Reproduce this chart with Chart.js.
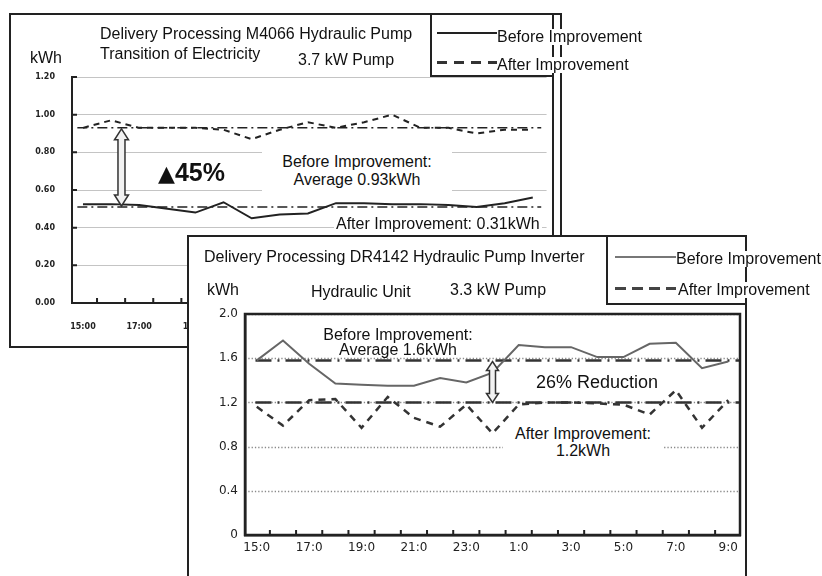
<!DOCTYPE html>
<html>
<head>
<meta charset="utf-8">
<script src="https://cdn.jsdelivr.net/npm/chart.js@4/dist/chart.umd.min.js"></script>
<style>
  body { margin: 0; width: 822px; height: 576px; overflow: hidden; background: #fff; position: relative;
         font-family: "Liberation Sans", Arial, sans-serif; color: #111; }
  .abs { position: absolute; box-sizing: border-box; }
  .t { position: absolute; white-space: nowrap; line-height: 1; font-size: 16px; }
  .bg { background: #fff; }
  .c { text-align: center; }
  canvas { position: absolute; }
</style>
</head>
<body>

<!-- back panel: M4066 -->
<div class="abs" style="left:9px;top:13px;width:553px;height:335px;border:2px solid #222;"></div>
<div class="abs" style="left:552px;top:13px;width:2px;height:335px;background:#222;"></div>
<canvas id="chart1" width="552" height="334" style="left:10px;top:14px;"></canvas>
<div class="abs" style="left:430px;top:13px;width:124px;height:64px;border-left:2px solid #222;border-bottom:2px solid #222;"></div>
<div class="abs" style="left:437px;top:32px;width:60px;height:2px;background:#222;"></div>
<div class="abs" style="left:437px;top:61px;width:60px;height:3px;background:repeating-linear-gradient(90deg,#333 0 10px,transparent 10px 17px);"></div>
<div class="t bg" style="left:497px;top:29px;">Before Improvement</div>
<div class="t bg" style="left:497px;top:57px;">After Improvement</div>
<div class="t" style="left:100px;top:26px;">Delivery Processing M4066 Hydraulic Pump</div>
<div class="t" style="left:100px;top:46px;">Transition of Electricity</div>
<div class="t" style="left:298px;top:52px;">3.7 kW Pump</div>
<div class="t" style="left:30px;top:50px;">kWh</div>
<div class="t" style="left:158px;top:160px;font-weight:bold;font-size:25px;"><span style="font-family:'DejaVu Sans';font-size:22px;">▲</span>45%</div>
<div class="t bg c" style="left:262px;top:150px;width:190px;line-height:18px;padding:3px 0 6px;">Before Improvement:<br>Average 0.93kWh</div>
<div class="t bg" style="left:334px;top:216px;padding:0 2px;">After Improvement: 0.31kWh</div>

<!-- front panel: DR4142 -->
<div class="abs bg" style="left:187px;top:235px;width:560px;height:400px;border:2px solid #222;"></div>
<canvas id="chart2" width="558" height="340" style="left:188px;top:236px;"></canvas>
<div class="abs" style="left:606px;top:235px;width:139px;height:70px;border-left:2px solid #222;border-bottom:2px solid #222;"></div>
<div class="abs" style="left:615px;top:256px;width:61px;height:2px;background:#777;"></div>
<div class="abs" style="left:615px;top:287px;width:61px;height:3px;background:repeating-linear-gradient(90deg,#444 0 11px,transparent 11px 17px);"></div>
<div class="t bg" style="left:676px;top:251px;">Before Improvement</div>
<div class="t bg" style="left:678px;top:282px;">After Improvement</div>
<div class="t" style="left:204px;top:249px;">Delivery Processing DR4142 Hydraulic Pump Inverter</div>
<div class="t" style="left:207px;top:282px;">kWh</div>
<div class="t" style="left:311px;top:284px;">Hydraulic Unit</div>
<div class="t" style="left:450px;top:282px;">3.3 kW Pump</div>
<div class="t c" style="left:318px;top:327px;width:160px;line-height:15px;">Before Improvement:<br>Average 1.6kWh</div>
<div class="t bg" style="left:533px;top:373px;font-size:18px;padding:0 3px;">26% Reduction</div>
<div class="t bg c" style="left:503px;top:425px;width:160px;line-height:17px;">After Improvement:<br>1.2kWh</div>

<script>
// chart 1: M4066, 3.7 kW pump
const hours1 = ['15:00','16:00','17:00','18:00','19:00','20:00','21:00','22:00','23:00',
                '0:00','1:00','2:00','3:00','4:00','5:00','6:00','7:00'];
const before1 = [0.93, 0.97, 0.93, 0.93, 0.93, 0.92, 0.87, 0.92, 0.96, 0.93, 0.96, 1.00, 0.93, 0.93, 0.90, 0.92, 0.92];
const after1 = [0.525, 0.525, 0.52, 0.50, 0.48, 0.535, 0.45, 0.47, 0.475, 0.53, 0.53, 0.525, 0.525, 0.52, 0.51, 0.53, 0.56];
const avg1 = [0.93, 0.51];
const yTicks1 = [0, 0.2, 0.4, 0.6, 0.8, 1.0, 1.2];

// chart 2: DR4142, 3.3 kW pump with inverter
const hours2 = ['15:0','16:0','17:0','18:0','19:0','20:0','21:0','22:0','23:0','0:0',
                '1:0','2:0','3:0','4:0','5:0','6:0','7:0','8:0','9:0'];
const before2 = [1.58, 1.76, 1.55, 1.37, 1.36, 1.35, 1.35, 1.42, 1.38, 1.47, 1.72, 1.70, 1.70, 1.61, 1.61, 1.73, 1.74, 1.51, 1.57];
const after2 = [1.16, 0.99, 1.22, 1.23, 0.97, 1.25, 1.06, 0.98, 1.18, 0.92, 1.18, 1.20, 1.20, 1.19, 1.18, 1.09, 1.31, 0.97, 1.22];
const avg2 = [1.58, 1.2];
const yTicks2 = [0, 0.4, 0.8, 1.2, 1.6, 2.0];

const toXY = arr => arr.map((y, i) => ({ x: i, y: y }));
const flat = (v, from, to) => [{ x: from, y: v }, { x: to, y: v }];

// dotted grid, inner tick marks, frame and the hollow double arrow between averages
const extras = {
  id: 'extras',
  beforeDatasetsDraw(chart, args, opts) {
    if (!opts.dottedGrid) return;
    const { ctx, chartArea: a, scales: { y } } = chart;
    ctx.save();
    ctx.strokeStyle = '#8a8a8a';
    ctx.lineWidth = 1.3;
    ctx.setLineDash([1.3, 2]);
    ctx.beginPath();
    y.ticks.forEach(t => {
      if (t.value === 0) return;
      const py = Math.round(y.getPixelForValue(t.value)) + 0.5;
      ctx.moveTo(a.left, py); ctx.lineTo(a.right, py);
    });
    ctx.stroke();
    ctx.restore();
  },
  afterDatasetsDraw(chart, args, opts) {
    const { ctx, chartArea: a, scales: { x, y } } = chart;
    ctx.save();
    ctx.strokeStyle = '#222';
    ctx.lineWidth = 2;
    ctx.beginPath();
    for (let i = -0.5; i < x.max; i += 1) {
      if (i <= x.min) continue;
      const px = x.getPixelForValue(i);
      ctx.moveTo(px, a.bottom); ctx.lineTo(px, a.bottom - 5);
    }
    if (opts.leftTicks) {
      y.ticks.forEach(t => {
        const py = y.getPixelForValue(t.value);
        ctx.moveTo(a.left, py); ctx.lineTo(a.left + 5, py);
      });
    }
    ctx.stroke();
    if (opts.frame) {
      ctx.lineWidth = 2.5;
      ctx.strokeRect(a.left, a.top, a.right - a.left, a.bottom - a.top);
    }
    const ar = opts.arrow;
    const ax = x.getPixelForValue(ar.x);
    const t = y.getPixelForValue(ar.y1), b = y.getPixelForValue(ar.y2);
    const sw = ar.shaft, hw = ar.head, hl = ar.headLen;
    ctx.beginPath();
    ctx.moveTo(ax, t);
    ctx.lineTo(ax + hw, t + hl); ctx.lineTo(ax + sw, t + hl);
    ctx.lineTo(ax + sw, b - hl); ctx.lineTo(ax + hw, b - hl);
    ctx.lineTo(ax, b);
    ctx.lineTo(ax - hw, b - hl); ctx.lineTo(ax - sw, b - hl);
    ctx.lineTo(ax - sw, t + hl); ctx.lineTo(ax - hw, t + hl);
    ctx.closePath();
    ctx.fillStyle = '#f2f2f2';
    ctx.fill();
    ctx.lineWidth = 1.5;
    ctx.strokeStyle = '#333';
    ctx.stroke();
    ctx.restore();
  }
};

new Chart(document.getElementById('chart1'), {
  type: 'line',
  data: {
    datasets: [
      { data: toXY(before1), borderColor: '#222', borderWidth: 2, borderDash: [6, 5], pointRadius: 0, tension: 0 },
      { data: toXY(after1), borderColor: '#222', borderWidth: 2, pointRadius: 0, tension: 0 },
      { data: flat(avg1[0], -0.2, hours1.length - 0.7), borderColor: '#222', borderWidth: 1.5, borderDash: [10, 4, 2, 4], pointRadius: 0 },
      { data: flat(avg1[1], -0.2, hours1.length - 0.7), borderColor: '#222', borderWidth: 1.5, borderDash: [10, 4, 2, 4], pointRadius: 0 }
    ]
  },
  options: {
    responsive: false,
    animation: false,
    layout: { padding: { top: 63, right: 9, left: 0, bottom: 0 } },
    plugins: {
      legend: { display: false }, tooltip: { enabled: false },
      extras: { leftTicks: true, frame: false, dottedGrid: false,
                arrow: { x: 1.37, y1: 0.925, y2: 0.515, shaft: 3.5, head: 7, headLen: 11 } }
    },
    scales: {
      x: {
        type: 'linear', min: -0.39, max: hours1.length - 0.51,
        afterFit: s => { s.height = 45; },
        afterBuildTicks: s => { s.ticks = hours1.map((h, i) => ({ value: i })).filter(t => t.value % 2 === 0); },
        ticks: { callback: v => hours1[v], autoSkip: false, maxRotation: 0, padding: 19,
                 font: { family: 'DejaVu Sans', size: 8, weight: 'bold' }, color: '#222' },
        grid: { display: false, drawTicks: false },
        border: { color: '#222', width: 2 }
      },
      y: {
        min: 0, max: 1.2,
        afterFit: s => { s.width = 62; },
        afterBuildTicks: s => { s.ticks = yTicks1.map(v => ({ value: v })); },
        ticks: { callback: v => v.toFixed(2), padding: 17,
                 font: { family: 'DejaVu Sans', size: 8, weight: 'bold' }, color: '#222' },
        grid: { color: '#c4c4c4', lineWidth: 1, drawTicks: false },
        border: { color: '#222', width: 2 }
      }
    }
  },
  plugins: [extras]
});

new Chart(document.getElementById('chart2'), {
  type: 'line',
  data: {
    datasets: [
      { data: toXY(before2), borderColor: '#666', borderWidth: 2, pointRadius: 0, tension: 0 },
      { data: toXY(after2), borderColor: '#333', borderWidth: 2.5, borderDash: [7, 6], pointRadius: 0, tension: 0 },
      { data: flat(avg2[0], -0.05, hours2.length - 0.55), borderColor: '#333', borderWidth: 2.5, borderDash: [16, 6, 2, 6], pointRadius: 0 },
      { data: flat(avg2[1], -0.05, hours2.length - 0.55), borderColor: '#333', borderWidth: 2.5, borderDash: [16, 6, 2, 6], pointRadius: 0 }
    ]
  },
  options: {
    responsive: false,
    animation: false,
    layout: { padding: { top: 78, right: 6, left: 0, bottom: 0 } },
    plugins: {
      legend: { display: false }, tooltip: { enabled: false },
      extras: { leftTicks: false, frame: true, dottedGrid: true,
                arrow: { x: 9.0, y1: 1.57, y2: 1.2, shaft: 3, head: 6, headLen: 9 } }
    },
    scales: {
      x: {
        type: 'linear', min: -0.45, max: hours2.length - 0.55,
        afterFit: s => { s.height = 41; },
        afterBuildTicks: s => { s.ticks = hours2.map((h, i) => ({ value: i })).filter(t => t.value % 2 === 0); },
        ticks: { callback: v => hours2[v], autoSkip: false, maxRotation: 0, padding: 6,
                 font: { family: 'DejaVu Sans', size: 12 }, color: '#222' },
        grid: { display: false, drawTicks: false },
        border: { color: '#222', width: 2.5 }
      },
      y: {
        min: 0, max: 2,
        afterFit: s => { s.width = 57; },
        afterBuildTicks: s => { s.ticks = yTicks2.map(v => ({ value: v })); },
        ticks: { callback: v => v === 0 ? '0' : v.toFixed(1), padding: 7,
                 font: { family: 'DejaVu Sans', size: 12 }, color: '#222' },
        grid: { display: false, drawTicks: false },
        border: { color: '#222', width: 2.5 }
      }
    }
  },
  plugins: [extras]
});
</script>
</body>
</html>
